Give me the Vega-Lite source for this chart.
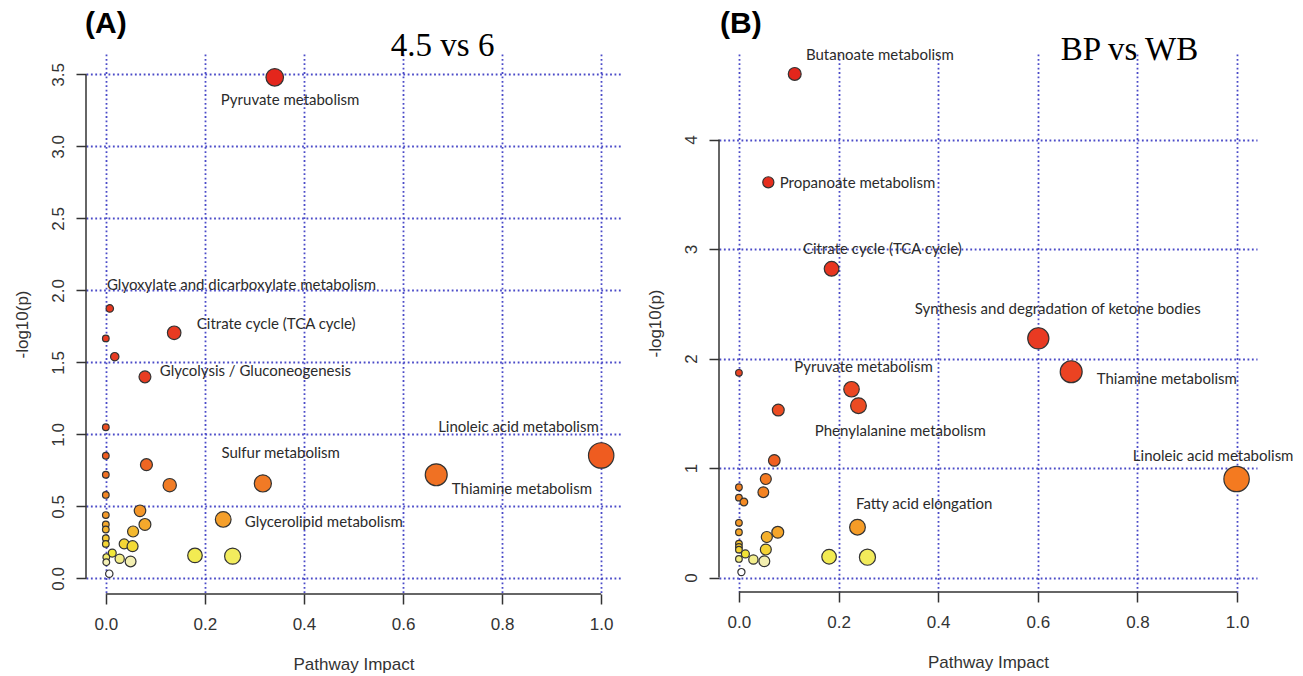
{
  "$schema": "https://vega.github.io/schema/vega-lite/v6.json",
  "background": "white",
  "padding": {"left": 13, "top": 8, "right": 5, "bottom": 5},
  "bounds": "flush",
  "spacing": 98,
  "resolve": {"scale": {"color": "independent", "size": "independent"}},
  "config": {
    "view": {"stroke": null},
    "axis": {
      "grid": true,
      "gridColor": "#4b4bc8",
      "gridDash": [1.8, 2.6],
      "gridWidth": 1.8,
      "domain": false,
      "ticks": true,
      "tickSize": 10,
      "tickColor": "#333333",
      "tickWidth": 1.5,
      "labelFont": "Liberation Sans",
      "labelFontSize": 17,
      "labelColor": "#333333",
      "titleFont": "Liberation Sans",
      "titleFontSize": 17,
      "titleFontWeight": "normal",
      "titleColor": "#333333",
      "labelOverlap": false
    },
    "axisX": {"labelPadding": 12, "titlePadding": 24},
    "axisY": {"labelAngle": -90, "labelAlign": "center", "labelBaseline": "alphabetic", "labelPadding": 13, "titlePadding": 18}
  },
  "datasets": {
    "a_points": [
      {"impact": 0.341, "p": 3.48},
      {"impact": 0.008, "p": 1.875},
      {"impact": 0.0, "p": 1.667},
      {"impact": 0.138, "p": 1.706},
      {"impact": 0.018, "p": 1.54},
      {"impact": 0.079, "p": 1.40},
      {"impact": 0.0, "p": 1.05},
      {"impact": 0.0, "p": 0.852},
      {"impact": 0.082, "p": 0.79},
      {"impact": 0.0, "p": 0.72},
      {"impact": 0.129, "p": 0.648},
      {"impact": 0.317, "p": 0.66},
      {"impact": 0.0, "p": 0.58},
      {"impact": 0.069, "p": 0.47},
      {"impact": 0.237, "p": 0.41},
      {"impact": 0.0, "p": 0.44},
      {"impact": 0.079, "p": 0.375},
      {"impact": 0.0, "p": 0.375},
      {"impact": 0.0, "p": 0.34},
      {"impact": 0.0, "p": 0.28},
      {"impact": 0.0, "p": 0.24},
      {"impact": 0.055, "p": 0.326},
      {"impact": 0.037, "p": 0.24},
      {"impact": 0.054, "p": 0.224},
      {"impact": 0.18, "p": 0.16},
      {"impact": 0.256, "p": 0.155},
      {"impact": 0.013, "p": 0.176},
      {"impact": 0.028, "p": 0.137},
      {"impact": 0.05, "p": 0.118},
      {"impact": 0.001, "p": 0.148},
      {"impact": 0.001, "p": 0.113},
      {"impact": 0.007, "p": 0.033},
      {"impact": 0.667, "p": 0.72},
      {"impact": 1.0, "p": 0.854}
    ],
    "a_labels": [
      {"label": "Pyruvate metabolism", "x": 0.372, "y": 3.326},
      {"label": "Glyoxylate and dicarboxylate metabolism", "x": 0.274, "y": 2.04},
      {"label": "Citrate cycle (TCA cycle)", "x": 0.344, "y": 1.77},
      {"label": "Glycolysis / Gluconeogenesis", "x": 0.302, "y": 1.444},
      {"label": "Sulfur metabolism", "x": 0.353, "y": 0.873},
      {"label": "Glycerolipid metabolism", "x": 0.44, "y": 0.391},
      {"label": "Linoleic acid metabolism", "x": 0.833, "y": 1.05},
      {"label": "Thiamine metabolism", "x": 0.84, "y": 0.618}
    ],
    "b_points": [
      {"impact": 0.112, "p": 4.60},
      {"impact": 0.059, "p": 3.61},
      {"impact": 0.186, "p": 2.82},
      {"impact": 0.601, "p": 2.185},
      {"impact": 0.667, "p": 1.88},
      {"impact": 0.999, "p": 0.90},
      {"impact": 0.0, "p": 1.87},
      {"impact": 0.226, "p": 1.72},
      {"impact": 0.24, "p": 1.57},
      {"impact": 0.079, "p": 1.53},
      {"impact": 0.071, "p": 1.07},
      {"impact": 0.054, "p": 0.90},
      {"impact": 0.049, "p": 0.78},
      {"impact": 0.0, "p": 0.825},
      {"impact": 0.0, "p": 0.73},
      {"impact": 0.01, "p": 0.69},
      {"impact": 0.0, "p": 0.50},
      {"impact": 0.0, "p": 0.414},
      {"impact": 0.078, "p": 0.414},
      {"impact": 0.238, "p": 0.46},
      {"impact": 0.056, "p": 0.37},
      {"impact": 0.0, "p": 0.31},
      {"impact": 0.0, "p": 0.28},
      {"impact": 0.054, "p": 0.256},
      {"impact": 0.0, "p": 0.255},
      {"impact": 0.013, "p": 0.216},
      {"impact": 0.0, "p": 0.17},
      {"impact": 0.029, "p": 0.165},
      {"impact": 0.051, "p": 0.149},
      {"impact": 0.181, "p": 0.19},
      {"impact": 0.258, "p": 0.186},
      {"impact": 0.005, "p": 0.05}
    ],
    "b_labels": [
      {"label": "Butanoate metabolism", "x": 0.283, "y": 4.77},
      {"label": "Propanoate metabolism", "x": 0.238, "y": 3.60},
      {"label": "Citrate cycle (TCA cycle)", "x": 0.288, "y": 3.0},
      {"label": "Synthesis and degradation of ketone bodies", "x": 0.64, "y": 2.457},
      {"label": "Thiamine metabolism", "x": 0.859, "y": 1.815},
      {"label": "Linoleic acid metabolism", "x": 0.952, "y": 1.114},
      {"label": "Pyruvate metabolism", "x": 0.25, "y": 1.92},
      {"label": "Phenylalanine metabolism", "x": 0.324, "y": 1.342},
      {"label": "Fatty acid elongation", "x": 0.372, "y": 0.676}
    ]
  },
  "hconcat": [
    {
      "width": 535,
      "height": 540,
      "layer": [
        {
          "data": {"name": "a_points"},
          "mark": {"type": "circle", "stroke": "#333333", "strokeWidth": 1.2, "opacity": 1},
          "encoding": {
            "x": {"field": "impact", "type": "quantitative", "title": "Pathway Impact",
              "scale": {"domain": [-0.04, 1.04], "nice": false, "zero": false},
              "axis": {"values": [0, 0.2, 0.4, 0.6, 0.8, 1.0], "format": ".1f"}},
            "y": {"field": "p", "type": "quantitative", "title": "-log10(p)",
              "scale": {"domain": [-0.108, 3.642], "nice": false, "zero": false},
              "axis": {"values": [0, 0.5, 1, 1.5, 2, 2.5, 3, 3.5], "format": ".1f"}},
            "color": {"field": "p", "type": "quantitative", "legend": null,
              "scale": {"domain": [0.03, 0.12, 0.17, 0.26, 0.4, 0.7, 0.85, 1.3, 3.5],
                "range": ["#ffffff", "#f3efb0", "#f2ea3a", "#f4d034", "#f5a02a", "#f07424", "#ef5c20", "#e93e22", "#e4261c"],
                "interpolate": "rgb"}},
            "size": {"field": "impact", "type": "quantitative", "legend": null,
              "scale": {"domain": [0, 0.05, 0.1, 0.2, 0.35, 0.6, 1], "range": [44, 117, 158, 225, 313, 449, 645]}}
          }
        },
        {
          "data": {"name": "a_labels"},
          "mark": {"type": "text", "font": "Lato", "fontSize": 15, "color": "#2b2b2b"},
          "encoding": {
            "x": {"field": "x", "type": "quantitative", "title": "Pathway Impact"},
            "y": {"field": "y", "type": "quantitative", "title": "-log10(p)"},
            "text": {"field": "label"}
          }
        },
        {
          "data": {"values": [{}]},
          "mark": {"type": "rule", "color": "#333333", "strokeWidth": 1.5},
          "encoding": {"x": {"datum": -0.04}, "y": {"datum": 0}, "y2": {"datum": 3.5}}
        },
        {
          "data": {"values": [{}]},
          "mark": {"type": "rule", "color": "#333333", "strokeWidth": 1.5},
          "encoding": {"y": {"datum": -0.108}, "x": {"datum": 0}, "x2": {"datum": 1}}
        },
        {
          "data": {"values": [{"t": "(A)"}]},
          "mark": {"type": "text", "font": "Liberation Sans", "fontWeight": "bold", "fontSize": 30, "align": "left", "baseline": "alphabetic", "dx": -1, "dy": -21.5, "color": "#000000"},
          "encoding": {"x": {"datum": -0.04}, "y": {"datum": 3.642}, "text": {"field": "t"}}
        },
        {
          "data": {"values": [{"t": "4.5 vs 6"}]},
          "mark": {"type": "text", "font": "Liberation Serif", "fontSize": 33, "align": "center", "baseline": "alphabetic", "dy": 1.5, "color": "#000000"},
          "encoding": {"x": {"datum": 0.68}, "y": {"datum": 3.642}, "text": {"field": "t"}}
        }
      ]
    },
    {
      "width": 538,
      "height": 538,
      "layer": [
        {
          "data": {"name": "b_points"},
          "mark": {"type": "circle", "stroke": "#333333", "strokeWidth": 1.2, "opacity": 1},
          "encoding": {
            "x": {"field": "impact", "type": "quantitative", "title": "Pathway Impact",
              "scale": {"domain": [-0.04, 1.04], "nice": false, "zero": false},
              "axis": {"values": [0, 0.2, 0.4, 0.6, 0.8, 1.0], "format": ".1f"}},
            "y": {"field": "p", "type": "quantitative", "title": "-log10(p)",
              "scale": {"domain": [-0.132, 4.782], "nice": false, "zero": false},
              "axis": {"values": [0, 1, 2, 3, 4], "format": "d"}},
            "color": {"field": "p", "type": "quantitative", "legend": null,
              "scale": {"domain": [0.05, 0.15, 0.2, 0.3, 0.45, 0.9, 1.1, 1.6, 2.2, 4.6],
                "range": ["#ffffff", "#f3efb0", "#f2ea3a", "#f5c030", "#f59d27", "#f47a20", "#ef5a20", "#ec4a22", "#e93a22", "#e4261c"],
                "interpolate": "rgb"}},
            "size": {"field": "impact", "type": "quantitative", "legend": null,
              "scale": {"domain": [0, 0.05, 0.1, 0.2, 0.35, 0.6, 1], "range": [44, 117, 158, 225, 313, 449, 645]}}
          }
        },
        {
          "data": {"name": "b_labels"},
          "mark": {"type": "text", "font": "Lato", "fontSize": 15, "color": "#2b2b2b"},
          "encoding": {
            "x": {"field": "x", "type": "quantitative", "title": "Pathway Impact"},
            "y": {"field": "y", "type": "quantitative", "title": "-log10(p)"},
            "text": {"field": "label"}
          }
        },
        {
          "data": {"values": [{}]},
          "mark": {"type": "rule", "color": "#333333", "strokeWidth": 1.5},
          "encoding": {"x": {"datum": -0.04}, "y": {"datum": 0}, "y2": {"datum": 4}}
        },
        {
          "data": {"values": [{}]},
          "mark": {"type": "rule", "color": "#333333", "strokeWidth": 1.5},
          "encoding": {"y": {"datum": -0.132}, "x": {"datum": 0}, "x2": {"datum": 1}}
        },
        {
          "data": {"values": [{"t": "(B)"}]},
          "mark": {"type": "text", "font": "Liberation Sans", "fontWeight": "bold", "fontSize": 30, "align": "left", "baseline": "alphabetic", "dx": 1, "dy": -21.5, "color": "#000000"},
          "encoding": {"x": {"datum": -0.04}, "y": {"datum": 4.782}, "text": {"field": "t"}}
        },
        {
          "data": {"values": [{"t": "BP vs WB"}]},
          "mark": {"type": "text", "font": "Liberation Serif", "fontSize": 33, "align": "center", "baseline": "alphabetic", "dy": 5.5, "color": "#000000"},
          "encoding": {"x": {"datum": 0.784}, "y": {"datum": 4.782}, "text": {"field": "t"}}
        }
      ]
    }
  ]
}
